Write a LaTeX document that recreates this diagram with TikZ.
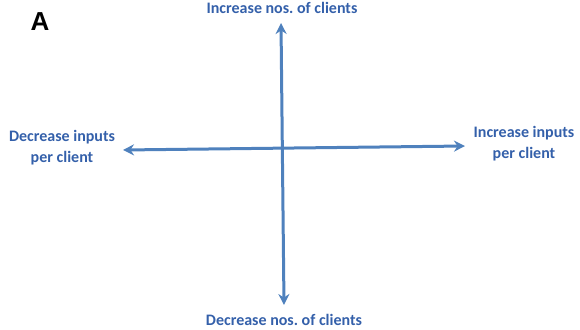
\documentclass[tikz,border=0pt]{standalone}
\usepackage{fontspec}
\setmainfont{Carlito}
\newfontfamily\labelA{Liberation Sans}
\usetikzlibrary{arrows.meta}
\definecolor{axisblue}{RGB}{79,129,189}
\definecolor{txtblue}{RGB}{52,96,170}
\frenchspacing
\tikzset{
  axis/.style={draw=axisblue, line width=3pt, {Stealth[length=11pt,width=11pt]}-{Stealth[length=11pt,width=11pt]}},
  lbl/.style={text=txtblue, font=\fontsize{16}{21}\selectfont\bfseries, align=center, inner sep=0pt},
}
\begin{document}
\begin{tikzpicture}[x=1pt,y=-1pt]
\useasboundingbox (0,0) rectangle (580,329);
\node[font=\labelA\fontsize{26}{28}\selectfont\bfseries, inner sep=0pt] (A) at (40,22) {A};
\coordinate (top) at (281,23);
\coordinate (bot) at (284,305);
\coordinate (lft) at (123,150);
\coordinate (rgt) at (465,146);
\draw[axis] (top) -- (bot);
\draw[axis] (lft) -- (rgt);
\node[lbl] (tl) at (282,8) {Increase nos. of clients};
\node[lbl] (bl) at (284,320) {Decrease nos. of clients};
\node[lbl] (ll) at (62,148) {Decrease inputs\\per client};
\node[lbl] (rl) at (524,144) {Increase inputs\\per client};
\end{tikzpicture}
\end{document}
